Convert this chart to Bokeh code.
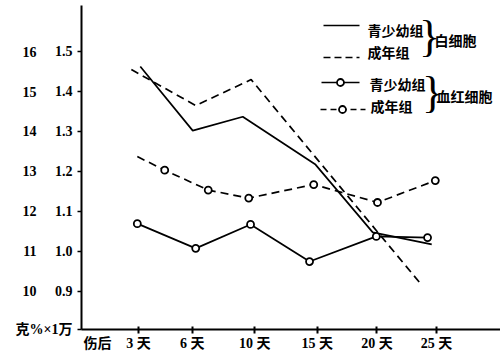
from bokeh.plotting import figure
from bokeh.models import Range1d, LinearAxis, FixedTicker, CustomJSTickFormatter
from bokeh.core.properties import value
from bokeh.embed import file_html
from bokeh.resources import INLINE

# ---------------- data ----------------
day_labels = ["3 天", "6 天", "10 天", "15 天", "20 天", "25 天"]
day_pos = [1.0, 1.9, 2.95, 4.0, 5.0, 6.0]          # position of each day along the axis
start_label = "伤后"
unit_label = "克%×1万"

wbc_ticks = [0.9, 1.0, 1.1, 1.2, 1.3, 1.4, 1.5]       # ×1万
hb_ticks = [10, 11, 12, 13, 14, 15, 16]               # 克%

# 白细胞 (×1万)
wbc_youth_x = [1.03, 1.91, 2.75, 3.97, 4.93, 5.92]
wbc_youth = [1.463, 1.302, 1.337, 1.217, 1.047, 1.017]
wbc_adult_x = [0.88, 1.96, 2.89, 4.00, 5.00, 5.73]
wbc_adult = [1.455, 1.365, 1.430, 1.230, 1.050, 0.919]

# 血红细胞 (克%)
rbc_youth_x = [0.98, 1.96, 2.88, 3.87, 4.99, 5.85]
rbc_youth = [11.69, 11.07, 11.67, 10.74, 11.37, 11.34]
rbc_adult_x = [0.98, 1.44, 2.17, 2.85, 3.94, 5.01, 5.98]
rbc_adult = [13.37, 13.03, 12.53, 12.33, 12.67, 12.22, 12.77]

# ---------------- layout helpers (page pixel -> data) ----------------
def X(px):
    return 1 + (px - 138) / 59.6

def Y(py):
    return 1.2 + (170.86 - py) / 399.0

def G(py):
    return 10 * Y(py) + 1

NUM_FONT = "Liberation Serif, Noto Sans CJK SC"
CJK_FONT = "Noto Sans CJK SC"

y_bottom = Y(329)
x_start_pos = X(97)

p = figure(width=500, height=361, output_backend="svg", toolbar_location=None,
           x_range=Range1d(X(81), X(500)), y_range=Range1d(y_bottom, Y(5)),
           min_border_left=81, min_border_right=0, min_border_top=5, min_border_bottom=32)
p.extra_y_ranges = {"g": Range1d(G(329), G(5))}
p.outline_line_color = None
p.grid.visible = False
p.background_fill_color = "white"
p.border_fill_color = "white"

def style_labels(ax):
    ax.major_label_text_font = NUM_FONT
    ax.major_label_text_font_size = "14px"
    ax.major_label_text_font_style = "bold"
    ax.major_label_text_color = "black"

# x axis: line + tick marks only
xa = p.xaxis[0]
xa.ticker = FixedTicker(ticks=day_pos)
xa.formatter = CustomJSTickFormatter(code="return '';")
xa.axis_line_width = 2
xa.axis_line_color = "black"
xa.major_tick_line_width = 2
xa.major_tick_in = 3
xa.major_tick_out = 4
xa.minor_tick_line_color = None
xa.major_label_standoff = 0
xa.major_label_text_font_size = "0px"

# x axis labels (incl. 伤后) on a second, line-less axis
xl = LinearAxis(ticker=FixedTicker(ticks=[x_start_pos] + day_pos))
xl.formatter = CustomJSTickFormatter(
    args=dict(pos=[x_start_pos] + day_pos, lab=[start_label] + day_labels), code="""
    for (let i = 0; i < pos.length; i++) { if (Math.abs(pos[i] - tick) < 1e-6) return lab[i]; }
    return '';
""")
xl.axis_line_color = None
xl.major_tick_line_color = None
xl.minor_tick_line_color = None
xl.major_tick_in = 0
xl.major_tick_out = 0
xl.major_label_standoff = 2
style_labels(xl)
p.add_layout(xl, "below")

# inner y axis (×1万) + unit label at the bottom
ya = p.yaxis[0]
ya.ticker = FixedTicker(ticks=[y_bottom] + wbc_ticks)
ya.formatter = CustomJSTickFormatter(args=dict(b=y_bottom, u=unit_label), code="""
    if (Math.abs(tick - b) < 1e-9) return u;
    return tick.toFixed(1);
""")
ya.axis_line_width = 2
ya.axis_line_color = "black"
ya.major_tick_line_width = 1.5
ya.major_tick_in = 0
ya.major_tick_out = 4
ya.minor_tick_line_color = None
ya.major_label_standoff = 5
style_labels(ya)

# outer y axis (克%)
ga = LinearAxis(y_range_name="g", ticker=FixedTicker(ticks=hb_ticks))
ga.axis_line_color = None
ga.major_tick_line_color = None
ga.minor_tick_line_color = None
ga.major_tick_in = 0
ga.major_tick_out = 0
ga.major_label_standoff = -24
style_labels(ga)
p.add_layout(ga, "left")

# ---------------- series ----------------
LW = 1.7
p.line(wbc_youth_x, wbc_youth, line_color="black", line_width=LW)
p.line(wbc_adult_x, wbc_adult, line_color="black", line_width=LW, line_dash="8 5")
p.line(rbc_youth_x, rbc_youth, line_color="black", line_width=LW, y_range_name="g")
p.scatter(rbc_youth_x, rbc_youth, marker="circle", size=7, fill_color="white",
          line_color="black", line_width=1.8, y_range_name="g")
p.line(rbc_adult_x, rbc_adult, line_color="black", line_width=LW, line_dash="8 5", y_range_name="g")
p.scatter(rbc_adult_x[1:], rbc_adult[1:], marker="circle", size=7, fill_color="white",
          line_color="black", line_width=1.8, y_range_name="g")

# ---------------- legend (drawn) ----------------
p.line([X(323), X(359)], [Y(25), Y(25)], line_color="black", line_width=LW)
p.line([X(323), X(359)], [Y(57), Y(57)], line_color="black", line_width=LW, line_dash="7 4")
p.line([X(321), X(359)], [Y(82), Y(82)], line_color="black", line_width=LW)
p.scatter([X(340)], [Y(82)], marker="circle", size=7, fill_color="white", line_color="black", line_width=1.8)
p.line([X(320), X(365)], [Y(109), Y(109)], line_color="black", line_width=LW, line_dash="6 4")
p.scatter([X(342)], [Y(109)], marker="circle", size=7, fill_color="white", line_color="black", line_width=1.8)

leg_text = ["青少幼组", "成年组", "白细胞", "青少幼组", "成年组", "血红细胞"]
leg_x = [X(367), X(367), X(434), X(369), X(370), X(436)]
leg_y = [Y(29), Y(51), Y(39), Y(83), Y(105), Y(95)]
p.text(leg_x, leg_y, text=leg_text, text_font=value(CJK_FONT), text_font_size="14px",
       text_font_style="bold", text_align="left", text_baseline="middle", text_color="black")
p.text([X(429), X(432)], [Y(36), Y(92)], text=["}", "}"], text_font=value("Liberation Serif"),
       text_font_size="44px", text_align="center", text_baseline="middle", text_color="black")

open("out.html", "w").write(file_html(p, INLINE))
